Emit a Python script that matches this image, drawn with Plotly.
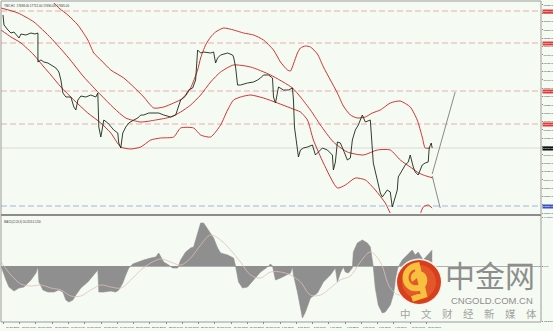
import math
import plotly.graph_objects as go

W, H = 553, 331

# ---------------- data ----------------
price_x = [2,3,7,10,13,17,18,20,25,30,34,37,37,40,43,47,50,55,58,60,62,65,70,73,75,77,80,85,90,95,97,98,100,103,107,110,113,117,118,120,122,125,128,133,137,140,143,148,153,158,163,170,175,178,180,185,188,192,195,197,200,203,210,213,215,217,220,227,232,233,235,237,240,247,253,257,260,263,268,272,273,275,278,283,288,292,293,294,297,298,300,303,307,312,315,318,322,327,332,333,335,337,340,343,347,350,352,355,358,362,365,370,372,373,377,380,382,387,390,392,395,397,398,402,405,408,410,413,415,418,422,425,428,429,431,432]
price_y = [18094,18064,18049,18040,18043,18028,18025,18037,18034,18040,18037,18040,17953,17959,17953,17950,17944,17935,17923,17899,17860,17848,17848,17818,17809,17839,17851,17848,17854,17848,17860,17758,17728,17779,17770,17758,17749,17740,17710,17695,17740,17758,17770,17779,17785,17794,17794,17800,17800,17800,17794,17788,17794,17818,17839,17854,17869,17875,17899,17989,17980,17983,17980,17983,17950,17965,17974,17980,17974,17968,17938,17884,17884,17890,17893,17899,17905,17914,17914,17905,17848,17830,17878,17869,17869,17875,17839,17758,17689,17668,17689,17695,17698,17704,17674,17683,17695,17689,17674,17629,17653,17713,17710,17689,17659,17665,17719,17749,17764,17794,17773,17779,17710,17650,17599,17560,17548,17569,17563,17518,17548,17569,17608,17629,17644,17653,17674,17638,17623,17614,17644,17650,17653,17695,17710,17695]

upper_x = [0,30,50,58,67,77,87,93,100,110,123,133,143,153,163,173,183,190,197,200,205,210,215,223,233,243,253,263,273,280,287,290,293,297,300,305,310,317,323,330,337,343,350,357,365,372,380,390,400,410,417,422,425,430]
upper_y = [18229,18199,18139,18115,18094,18064,18019,17980,17959,17929,17905,17878,17848,17815,17818,17830,17845,17875,17929,17965,18004,18028,18043,18055,18049,18040,18034,18019,17989,17953,17929,17926,17947,17980,17995,18001,17998,17977,17938,17899,17860,17821,17794,17785,17788,17800,17809,17830,17836,17818,17779,17728,17695,17695]

mid_x = [0,17,33,50,67,83,100,113,125,140,155,170,180,190,200,210,220,233,250,270,292,300,310,320,333,347,363,377,390,400,410,417,423,433]
mid_y = [18115,18100,18073,18025,17968,17908,17854,17815,17785,17773,17779,17788,17803,17824,17854,17893,17923,17944,17938,17914,17875,17848,17809,17764,17713,17683,17674,17689,17689,17659,17638,17623,17614,17605]

lower_x = [0,10,20,33,43,50,60,73,87,100,110,120,130,140,150,160,173,180,193,200,210,220,227,233,240,250,263,277,290,300,307,313,323,337,345,355,365,375,385,393,405,418,423,428,432]
lower_y = [18049,18028,18010,17974,17938,17914,17878,17839,17800,17770,17740,17698,17692,17698,17719,17725,17728,17755,17755,17734,17728,17764,17809,17839,17848,17854,17845,17830,17815,17803,17779,17719,17650,17575,17584,17605,17599,17569,17530,17485,17473,17485,17518,17524,17515]

macd_x = [0,2,5,8,13,18,23,30,35,37,38,42,47,53,58,62,65,68,72,75,80,87,93,97,98,103,110,115,118,122,125,128,132,137,143,150,155,158,163,168,172,177,180,185,190,193,197,200,203,208,213,217,220,227,233,235,238,242,247,253,260,267,270,272,275,280,287,290,292,293,297,302,305,310,317,323,330,335,337,340,343,345,348,352,353,357,362,367,370,373,375,378,382,385,390,393,397,398,402,407,412,415,418,423,428,432]
macd_v = [0,-6,-14,-21,-25,-22,-21,-14,-7,-1,-16,-24,-26,-26,-24,-26,-34,-36,-34,-29,-22,-16,-9,-4,-26,-26,-25,-26,-24,-17,-9,-2,2,4,6,8,9,13,4,1,-2,-2,6,14,18,19,34,43,43,36,28,18,13,11,8,0,-16,-22,-21,-14,-6,-1,2,0,-14,-12,-9,-7,-1,-9,-26,-52,-46,-32,-27,-16,-9,-2,-16,-7,-1,-6,-7,-2,14,23,26,23,19,-1,-22,-39,-47,-46,-39,-29,-4,-1,6,11,16,11,14,6,11,16]

signal_x = [0,10,20,30,40,50,60,70,80,90,100,110,120,130,140,150,160,170,180,190,200,210,220,230,240,250,260,270,280,290,300,310,320,330,340,350,360,370,380,390,400,410,420,432]
signal_v = [4,-9,-18,-20,-19,-22,-24,-30,-30,-24,-19,-21,-22,-14,-4,3,7,4,1,8,21,31,26,16,4,-9,-12,-6,-6,-9,-16,-29,-29,-22,-14,-10,4,14,4,-22,-29,-14,-2,4]

level_red = [18106, 18010, 17866, 17767]
level_current = 17695
level_blue = 17521

arrow_up_x = [432, 455]
arrow_up_y = [17617, 17863]
arrow_dn_x = [432, 440]
arrow_dn_y = [17611, 17515]

tick_pos = [3,19,35,52,68,84,101,117,133,149,166,182,198,214,231,247,263,280,296,312,328,345,361,377,393,410,426]
tick_text = ["11 Jun 2015","12 Jun 07:00","15 Jun 03:00","15 Jun 23:00","16 Jun 19:00","17 Jun 15:00","18 Jun 11:00","19 Jun 07:00","22 Jun 03:00","22 Jun 23:00","23 Jun 19:00","24 Jun 15:00","25 Jun 11:00","26 Jun 07:00","29 Jun 03:00","29 Jun 23:00","30 Jun 19:00","1 Jul 15:00","2 Jul 11:00","3 Jul 07:00","6 Jul 03:00","6 Jul 23:00","7 Jul 19:00","8 Jul 15:00","9 Jul 11:00","10 Jul 07:00","13 Jul 03:00"]

title_text = "YM#,H1  17698.00 17712.00 17690.00 17695.00"
macd_text = "MACD(12,26,9) 16.2453 4.1250"

# ---------------- styling ----------------
BG = "#f5fbf2"
RED = "#cf3434"
TXT = "#333333"
FONT = "Liberation Sans"

def px(x):
    return x / W

def py(y):
    return 1 - y / H

X_RIGHT = 541
main_dom = [py(213), py(3)]
macd_dom = [py(321), py(217)]

fig = go.Figure()

def add_line(x, y, yaxis="y", **line):
    fig.add_trace(go.Scatter(x=x, y=y, mode="lines", line=line, xaxis="x", yaxis=yaxis,
                             hoverinfo="skip", showlegend=False))

# levels
for lv in level_red:
    add_line([0, X_RIGHT], [lv, lv], color="#e69a9a", width=0.8, dash="6px,3px")
add_line([0, X_RIGHT], [level_current] * 2, color="#cfcfcf", width=0.8)
add_line([0, X_RIGHT], [level_blue] * 2, color="#8ea2d6", width=0.8, dash="6px,3px")

# bands
for bx, by in [(upper_x, upper_y), (mid_x, mid_y), (lower_x, lower_y)]:
    add_line(bx, by, color=RED, width=1, shape="spline", smoothing=0.6)

# price
add_line(price_x, price_y, color="#1a281a", width=0.9)

# arrows
add_line(arrow_up_x, arrow_up_y, color="#8a8a8a", width=1)
add_line(arrow_dn_x, arrow_dn_y, color="#8a8a8a", width=1)

# MACD
fig.add_trace(go.Scatter(x=macd_x, y=macd_v, mode="lines", fill="tozeroy", fillcolor="#8f8f8f",
                         line=dict(color="#8f8f8f", width=0.6), xaxis="x", yaxis="y2",
                         hoverinfo="skip", showlegend=False))
add_line(signal_x, signal_v, yaxis="y2", color="#dcc0b8", width=0.8, shape="spline")

shapes = []
# frame & separators
shapes.append(dict(type="rect", xref="paper", yref="paper", x0=px(1), x1=px(X_RIGHT), y0=py(322), y1=py(1),
                   line=dict(color="#9a9a9a", width=1), fillcolor="rgba(0,0,0,0)"))
shapes.append(dict(type="line", xref="paper", yref="paper", x0=px(1), x1=px(X_RIGHT), y0=py(215), y1=py(215),
                   line=dict(color="#8c8c8c", width=2)))

# logo
cx, cy, r = 419, 282, 22
shapes.append(dict(type="circle", xref="paper", yref="paper", x0=px(cx - r - 1.5), x1=px(cx + r + 1.5),
                   y0=py(cy + r + 1.5), y1=py(cy - r - 1.5), line=dict(width=0), fillcolor="#fbf3ee"))
shapes.append(dict(type="circle", xref="paper", yref="paper", x0=px(cx - r), x1=px(cx + r), y0=py(cy + r), y1=py(cy - r),
                   line=dict(width=0), fillcolor="#d8401c"))
shapes.append(dict(type="circle", xref="paper", yref="paper", x0=px(cx - r + 5), x1=px(cx + r - 5), y0=py(cy + r - 5),
                   y1=py(cy - r + 5), line=dict(width=0), fillcolor="#e2582a"))
pts = []
n = 40
for i in range(n + 1):
    t = i / n
    ang = math.radians(200 - 470 * t)
    rr = 2.5 + 11 * t
    pts.append((cx - 2 + rr * math.cos(ang), cy - 3 - rr * math.sin(ang)))
pts.append((cx + 5, cy + 13))
pts.append((cx - 7, cy + 17))
path = "M " + " L ".join(f"{px(a):.5f},{py(b):.5f}" for a, b in pts)
shapes.append(dict(type="path", xref="paper", yref="paper", path=path, line=dict(color="#f7c03e", width=6)))

annotations = []

def tag(val, bg):
    annotations.append(dict(xref="paper", yref="y", x=px(X_RIGHT + 0.5), y=val, xanchor="left", yanchor="middle",
                            text=f"{val:.2f}", showarrow=False, bgcolor=bg, borderpad=0,
                            font=dict(size=2.5, color="white", family=FONT)))

for lv in level_red:
    tag(lv, "#e23b3b")
tag(level_current, "#111111")
tag(level_blue, "#3b52c4")

annotations.append(dict(xref="paper", yref="paper", x=px(2), y=py(1.5), xanchor="left", yanchor="top", text=title_text,
                        showarrow=False, font=dict(size=3.0, color=TXT, family=FONT)))
annotations.append(dict(xref="paper", yref="paper", x=px(2), y=py(218), xanchor="left", yanchor="top", text=macd_text,
                        showarrow=False, font=dict(size=2.6, color=TXT, family=FONT)))

# x labels (left aligned at their tick, like the terminal does)
for tp, tt in zip(tick_pos, tick_text):
    annotations.append(dict(xref="x", yref="paper", x=tp, y=py(323.5), xanchor="left", yanchor="top", text=tt,
                            showarrow=False, font=dict(size=2.4, color=TXT, family=FONT)))

# watermark text
annotations.append(dict(xref="paper", yref="paper", x=px(490), y=py(274), xanchor="center", yanchor="middle", text="中金网",
                        showarrow=False, font=dict(size=30, color="#8e8e8e", family="Noto Sans CJK SC")))
annotations.append(dict(xref="paper", yref="paper", x=px(492), y=py(300), xanchor="center", yanchor="middle",
                        text="CNGOLD.COM.CN", showarrow=False,
                        font=dict(size=9.5, color="#8e8e8e", family=FONT)))
annotations.append(dict(xref="paper", yref="paper", x=px(468), y=py(313.5), xanchor="center", yanchor="middle",
                        text="中　文　财　经　新　媒　体", showarrow=False,
                        font=dict(size=10.5, color="#a3a3a3", family="Noto Sans CJK SC")))

fig.update_layout(
    width=W, height=H,
    margin=dict(l=0, r=0, t=0, b=0),
    paper_bgcolor=BG, plot_bgcolor=BG,
    showlegend=False,
    xaxis=dict(domain=[px(1), px(X_RIGHT)], range=[0, X_RIGHT], anchor="y2", showgrid=False, zeroline=False,
               tickvals=tick_pos, ticktext=[""] * len(tick_pos), ticks="outside", ticklen=2, tickcolor="#888",
               showline=False, automargin=False, fixedrange=True),
    yaxis=dict(domain=main_dom, range=[17500, 18130], side="right", anchor="x", showgrid=False, zeroline=False,
               tickmode="linear", tick0=17500, dtick=25, tickformat=".2f",
               tickfont=dict(size=2.5, color=TXT, family=FONT), ticks="outside", ticklen=1,
               tickcolor="#888", ticklabelstandoff=0, automargin=False, fixedrange=True),
    yaxis2=dict(domain=macd_dom, range=[-55, 49], side="right", anchor="x", showgrid=False, zeroline=True,
                zerolinecolor="#b0b0b0", zerolinewidth=0.5,
                tickvals=[49, 0, -55], ticktext=["49.0500", "0.00", "-55.2700"],
                tickfont=dict(size=2.5, color=TXT, family=FONT), ticks="outside", ticklen=1,
                tickcolor="#888", ticklabelstandoff=0, automargin=False, fixedrange=True),
    shapes=shapes, annotations=annotations,
)

fig.write_html("out.html")
